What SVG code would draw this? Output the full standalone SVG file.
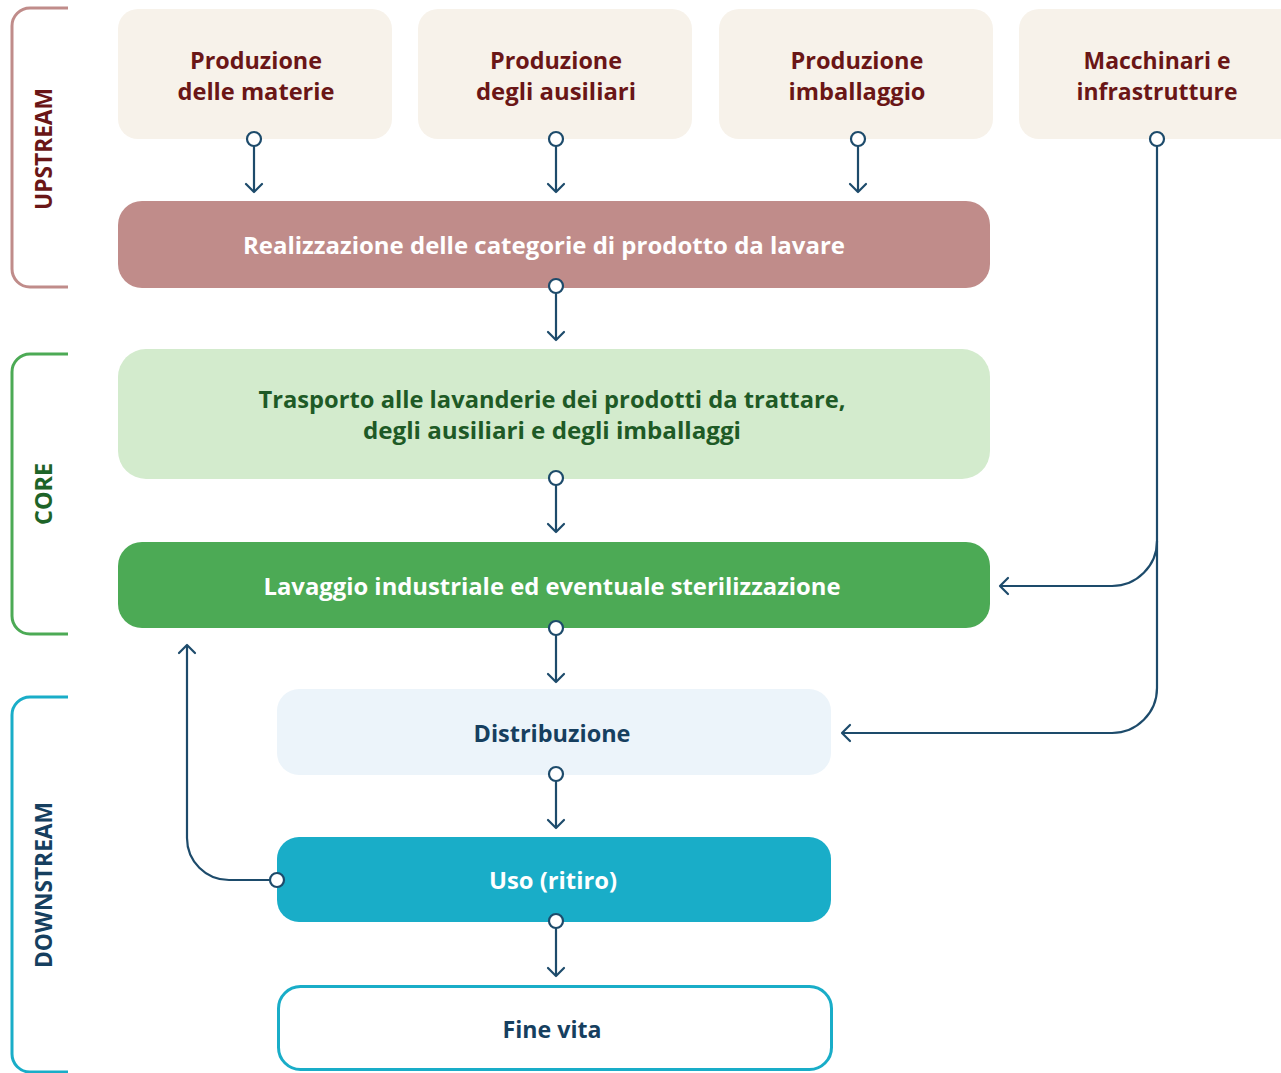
<svg xmlns="http://www.w3.org/2000/svg" width="1281" height="1073" viewBox="0 0 1281 1073">
<defs>
<marker id="arr" markerUnits="userSpaceOnUse" viewBox="-10 -10 12 20" refX="0" refY="0" markerWidth="12" markerHeight="20" orient="auto">
<path d="M-8,-8 L0,0 L-8,8" fill="none" stroke="#1d4b6b" stroke-width="2.2" stroke-linecap="round" stroke-linejoin="round"/>
</marker>
<style>
text{font-family:"Open Sans","Noto Sans","Liberation Sans",sans-serif;font-weight:700;font-size:24px;text-anchor:middle}
.up{fill:#f7f2ea}
.upt{fill:#6a1616}
.w{fill:#ffffff}
.conn{fill:none;stroke:#1d4b6b;stroke-width:2.2;marker-end:url(#arr)}
.dot{fill:#ffffff;stroke:#1d4b6b;stroke-width:2.2}
.br{fill:none;stroke-width:3}
</style>
</defs>
<rect width="1281" height="1073" fill="#ffffff"/>

<g id="bracket-upstream">
<path class="br" stroke="#c08c8a" d="M68,8 H30 A18,18 0 0 0 12,26 V269 A18,18 0 0 0 30,287 H68"/>
<text class="upt" transform="translate(52,149) rotate(-90)" textLength="122" lengthAdjust="spacingAndGlyphs">UPSTREAM</text>
</g>
<g id="bracket-core">
<path class="br" stroke="#4caa55" d="M68,354 H30 A18,18 0 0 0 12,372 V616 A18,18 0 0 0 30,634 H68"/>
<text fill="#1e6428" transform="translate(52,494) rotate(-90)" textLength="62" lengthAdjust="spacingAndGlyphs">CORE</text>
</g>
<g id="bracket-downstream">
<path class="br" stroke="#19adc8" d="M68,697 H30 A18,18 0 0 0 12,715 V1054 A18,18 0 0 0 30,1072 H68"/>
<text fill="#163f5f" transform="translate(52,885) rotate(-90)" textLength="166" lengthAdjust="spacingAndGlyphs">DOWNSTREAM</text>
</g>

<g id="n-materie">
<rect class="up" x="118" y="9" width="274" height="130" rx="20"/>
<text class="upt" x="256" y="69" textLength="132" lengthAdjust="spacingAndGlyphs">Produzione</text>
<text class="upt" x="256" y="100" textLength="157" lengthAdjust="spacingAndGlyphs">delle materie</text>
</g>
<g id="n-ausiliari">
<rect class="up" x="418" y="9" width="274" height="130" rx="20"/>
<text class="upt" x="556" y="69" textLength="132" lengthAdjust="spacingAndGlyphs">Produzione</text>
<text class="upt" x="556" y="100" textLength="160" lengthAdjust="spacingAndGlyphs">degli ausiliari</text>
</g>
<g id="n-imballaggio">
<rect class="up" x="719" y="9" width="274" height="130" rx="20"/>
<text class="upt" x="857" y="69" textLength="133" lengthAdjust="spacingAndGlyphs">Produzione</text>
<text class="upt" x="857" y="100" textLength="137" lengthAdjust="spacingAndGlyphs">imballaggio</text>
</g>
<g id="n-macchinari">
<rect class="up" x="1019" y="9" width="290" height="130" rx="20"/>
<text class="upt" x="1157" y="69" textLength="147" lengthAdjust="spacingAndGlyphs">Macchinari e</text>
<text class="upt" x="1157" y="100" textLength="161" lengthAdjust="spacingAndGlyphs">infrastrutture</text>
</g>
<g id="n-realizzazione">
<rect x="118" y="201" width="872" height="87" rx="24" fill="#c08c8a"/>
<text class="w" x="544" y="254" textLength="602" lengthAdjust="spacingAndGlyphs">Realizzazione delle categorie di prodotto da lavare</text>
</g>
<g id="n-trasporto">
<rect x="118" y="349" width="872" height="130" rx="28" fill="#d3ebcd"/>
<text fill="#1e5a26" x="552" y="408" textLength="587" lengthAdjust="spacingAndGlyphs">Trasporto alle lavanderie dei prodotti da trattare,</text>
<text fill="#1e5a26" x="552" y="439" textLength="378" lengthAdjust="spacingAndGlyphs">degli ausiliari e degli imballaggi</text>
</g>
<g id="n-lavaggio">
<rect x="118" y="542" width="872" height="86" rx="24" fill="#4caa55"/>
<text class="w" x="552" y="595" textLength="577" lengthAdjust="spacingAndGlyphs">Lavaggio industriale ed eventuale sterilizzazione</text>
</g>
<g id="n-distribuzione">
<rect x="277" y="689" width="554" height="86" rx="22" fill="#ecf4fa"/>
<text fill="#163f5f" x="552" y="742" textLength="157" lengthAdjust="spacingAndGlyphs">Distribuzione</text>
</g>
<g id="n-uso">
<rect x="277" y="837" width="554" height="85" rx="22" fill="#19adc8"/>
<text class="w" x="553" y="889" textLength="128" lengthAdjust="spacingAndGlyphs">Uso (ritiro)</text>
</g>
<g id="n-finevita">
<rect x="278.5" y="986.5" width="553" height="83" rx="22" fill="#ffffff" stroke="#19adc8" stroke-width="3"/>
<text fill="#163f5f" x="552" y="1038" textLength="99" lengthAdjust="spacingAndGlyphs">Fine vita</text>
</g>

<g id="connectors">
<path class="conn" d="M254,146 V192"/>
<path class="conn" d="M556,146 V192"/>
<path class="conn" d="M858,146 V192"/>
<path class="conn" d="M556,293 V340"/>
<path class="conn" d="M556,485 V532"/>
<path class="conn" d="M556,635 V682"/>
<path class="conn" d="M556,781 V828"/>
<path class="conn" d="M556,928 V976"/>
<path class="conn" d="M1157,146 V688 A45,45 0 0 1 1112,733 H842"/>
<path class="conn" d="M1157,541 A45,45 0 0 1 1112,586 H1000"/>
<path class="conn" d="M270,880 H229 A42,42 0 0 1 187,838 V645"/>
<circle class="dot" cx="254" cy="139" r="7"/>
<circle class="dot" cx="556" cy="139" r="7"/>
<circle class="dot" cx="858" cy="139" r="7"/>
<circle class="dot" cx="1157" cy="139" r="7"/>
<circle class="dot" cx="556" cy="286" r="7"/>
<circle class="dot" cx="556" cy="478" r="7"/>
<circle class="dot" cx="556" cy="628" r="7"/>
<circle class="dot" cx="556" cy="774" r="7"/>
<circle class="dot" cx="556" cy="921" r="7"/>
<circle class="dot" cx="277" cy="880" r="7"/>
</g>
</svg>
